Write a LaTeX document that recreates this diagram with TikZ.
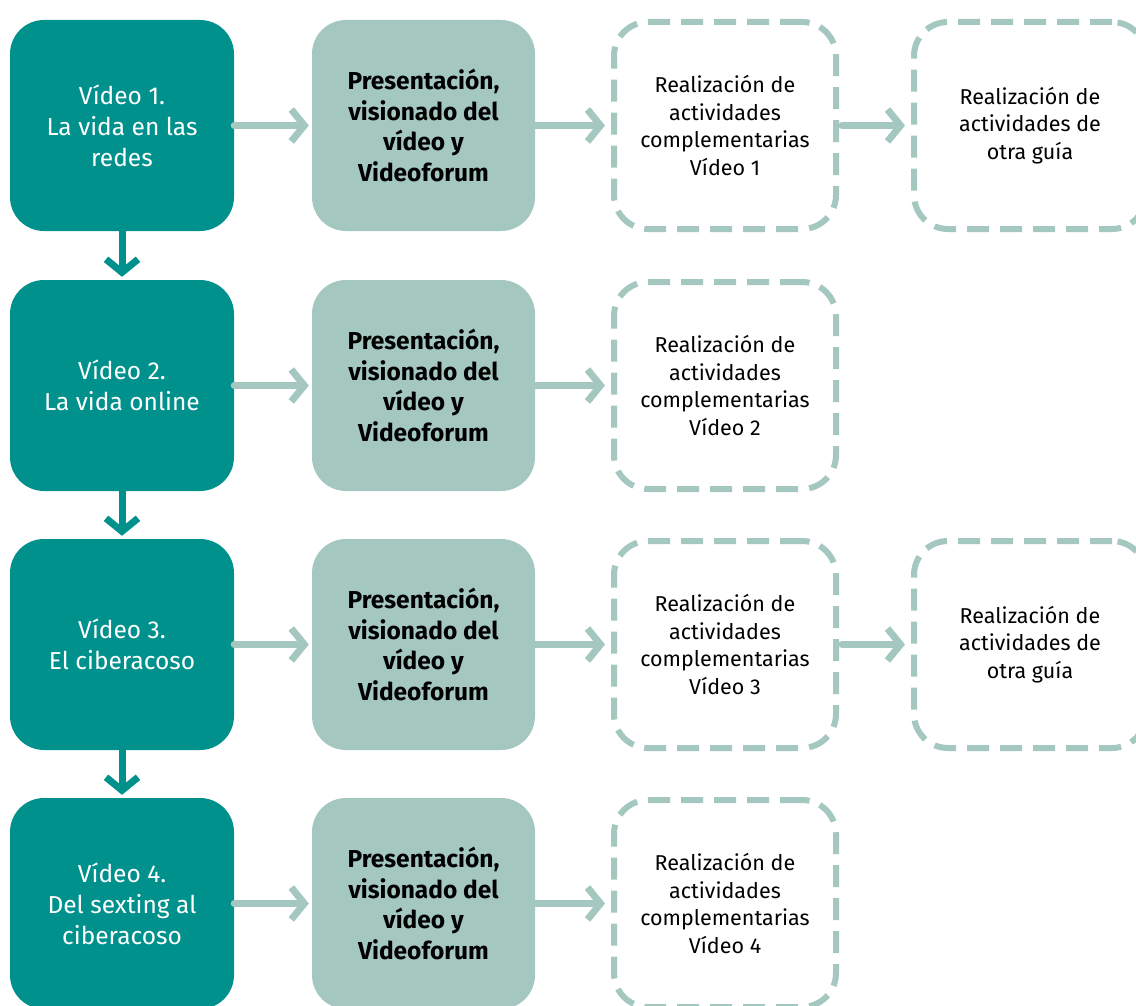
\documentclass[tikz,border=0pt]{standalone}
\usepackage{fontspec}
\setmainfont{Fira Sans}
\usetikzlibrary{arrows.meta}
\definecolor{tealdark}{RGB}{0,145,141}
\definecolor{sage}{RGB}{164,200,192}
\begin{document}
\begin{tikzpicture}[x=1pt,y=-1pt,
  videobox/.style={fill=tealdark, rounded corners=34pt, minimum width=224pt, minimum height=211pt,
    text=white, font=\fontsize{24.5}{31}\selectfont, align=center, inner sep=0pt},
  presbox/.style={fill=sage, rounded corners=34pt, minimum width=223pt, minimum height=211pt,
    text=black, font=\fontsize{24.5}{30.7}\selectfont\bfseries, align=center, inner sep=0pt},
  actbox/.style={draw=sage, line width=6pt, dash pattern=on 22pt off 11pt, rounded corners=34pt,
    minimum width=222pt, minimum height=207pt, fill=white,
    text=black, font=\fontsize{21.5}{27.5}\selectfont, align=center, inner sep=0pt},
  harrow/.style={draw=sage, line width=7pt, -{Straight Barb[length=13pt,width=32pt,line width=7pt]}, line cap=round, line join=round},
  varrow/.style={draw=tealdark, line width=7pt, -{Straight Barb[length=13pt,width=32pt,line width=7pt]}, line cap=round, line join=round}
]
\clip (0,0) rectangle (1136,1006);
\fill[white] (0,0) rectangle (1136,1006);

% column 1
\node[videobox] (v1) at (122,125.5) {Vídeo 1.\\La vida en las\\redes};
\node[videobox] (v2) at (122,385.5) {Vídeo 2.\\La vida online};
\node[videobox] (v3) at (122,644.5) {Vídeo 3.\\El ciberacoso};
\node[videobox] (v4) at (122,903.5) {Vídeo 4.\\Del sexting al\\ciberacoso};

% column 2
\node[presbox] (p1) at (423.5,125.5) {Presentación,\\visionado del\\vídeo y\\Videoforum};
\node[presbox] (p2) at (423.5,385.5) {Presentación,\\visionado del\\vídeo y\\Videoforum};
\node[presbox] (p3) at (423.5,644.5) {Presentación,\\visionado del\\vídeo y\\Videoforum};
\node[presbox] (p4) at (423.5,903.5) {Presentación,\\visionado del\\vídeo y\\Videoforum};

% column 3
\node[actbox] (a1) at (725,125.5) {Realización de\\actividades\\complementarias\\Vídeo 1};
\node[actbox] (a2) at (725,385.5) {Realización de\\actividades\\complementarias\\Vídeo 2};
\node[actbox] (a3) at (725,644.5) {Realización de\\actividades\\complementarias\\Vídeo 3};
\node[actbox] (a4) at (725,903.5) {Realización de\\actividades\\complementarias\\Vídeo 4};

% column 4
\node[actbox, minimum width=232pt] (g1) at (1030,125.5) {Realización de\\actividades de\\otra guía};
\node[actbox, minimum width=232pt] (g3) at (1030,644.5) {Realización de\\actividades de\\otra guía};

% horizontal arrows
\draw[harrow] (v1.east) -- ([xshift=-3pt]p1.west);
\draw[harrow] (v2.east) -- ([xshift=-3pt]p2.west);
\draw[harrow] (v3.east) -- ([xshift=-3pt]p3.west);
\draw[harrow] (v4.east) -- ([xshift=-3pt]p4.west);
\draw[harrow] (p1.east) -- ([xshift=-6pt]a1.west);
\draw[harrow] (p2.east) -- ([xshift=-6pt]a2.west);
\draw[harrow] (p3.east) -- ([xshift=-6pt]a3.west);
\draw[harrow] (p4.east) -- ([xshift=-6pt]a4.west);
\draw[harrow] ([xshift=3pt]a1.east) -- ([xshift=-6pt]g1.west);
\draw[harrow] ([xshift=3pt]a3.east) -- ([xshift=-6pt]g3.west);

% vertical arrows
\draw[varrow] (v1.south) -- ([yshift=3pt]v2.north);
\draw[varrow] (v2.south) -- ([yshift=3pt]v3.north);
\draw[varrow] (v3.south) -- ([yshift=3pt]v4.north);
\end{tikzpicture}
\end{document}
